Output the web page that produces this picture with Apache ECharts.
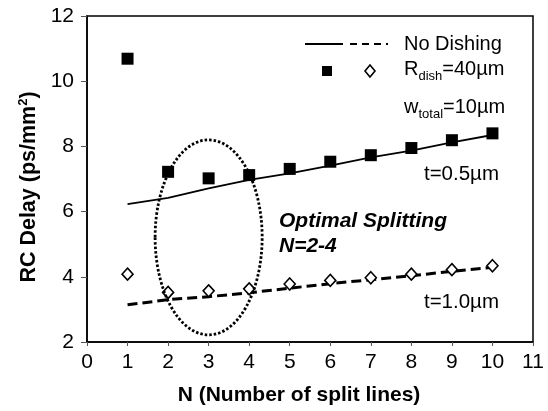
<!DOCTYPE html>
<html>
<head>
<meta charset="utf-8">
<script src="https://cdn.jsdelivr.net/npm/echarts@6/dist/echarts.min.js"></script>
<style>html,body{margin:0;padding:0;background:#fff;}#c{width:548px;height:411px;}</style>
</head>
<body>
<div id="c"></div>
<script>
var N = [1, 2, 3, 4, 5, 6, 7, 8, 9, 10];
var dishThin = [10.69, 7.22, 7.02, 7.12, 7.31, 7.53, 7.73, 7.95, 8.19, 8.40];
var dishThick = [4.08, 3.52, 3.57, 3.63, 3.78, 3.89, 3.97, 4.08, 4.22, 4.34];
var noDishThin = [6.23, 6.42, 6.71, 6.97, 7.17, 7.41, 7.66, 7.87, 8.12, 8.35];
var noDishThick = [3.14, 3.30, 3.39, 3.51, 3.65, 3.79, 3.91, 4.03, 4.17, 4.29];
var ellipse = [3.0, 5.21, 1.32, 2.99]; // cx, cy, rx, ry in data units
var xTicks = [0, 11, 1];
var yTicks = [2, 12, 2];

function pairs(xs, ys) { return xs.map(function (x, i) { return [x, ys[i]]; }); }

var FF = 'Liberation Sans, Arial, sans-serif';
var chart = echarts.init(document.getElementById('c'));
chart.setOption({
  animation: false,
  backgroundColor: '#fff',
  grid: { left: 87, right: 15, top: 16, bottom: 68, show: true, borderColor: '#000', borderWidth: 1.5 },
  xAxis: {
    type: 'value', min: xTicks[0], max: xTicks[1], interval: xTicks[2],
    name: 'N (Number of split lines)', nameLocation: 'middle', nameGap: 43,
    nameTextStyle: { fontFamily: FF, fontSize: 21, fontWeight: 'bold', color: '#000', padding: [0, 22, 0, 0] },
    axisLine: { show: true, lineStyle: { color: '#000', width: 1.5 } },
    axisTick: { show: true, length: 4, lineStyle: { color: '#555' } },
    axisLabel: { fontFamily: FF, fontSize: 21, color: '#000', margin: 10 },
    splitLine: { show: false }
  },
  yAxis: {
    type: 'value', min: yTicks[0], max: yTicks[1], interval: yTicks[2],
    name: '{b|RC Delay (ps/mm}{s|2}{b|)}', nameLocation: 'middle', nameGap: 46, nameRotate: 90,
    nameTextStyle: {
      padding: [0, 16, 0, 0],
      rich: {
        b: { fontFamily: FF, fontSize: 21.5, fontWeight: 'bold', color: '#000', lineHeight: 24 },
        s: { fontFamily: FF, fontSize: 13, fontWeight: 'bold', color: '#000', verticalAlign: 'top', lineHeight: 24 }
      }
    },
    axisLine: { show: true, lineStyle: { color: '#000', width: 1.5 } },
    axisTick: { show: true, length: 6, lineStyle: { color: '#555' } },
    axisLabel: { fontFamily: FF, fontSize: 21, color: '#000', margin: 13 },
    splitLine: { show: false }
  },
  series: [
    {
      type: 'line', data: pairs(N, noDishThin), showSymbol: false, symbol: 'none',
      lineStyle: { color: '#000', width: 1.8 }, z: 3
    },
    {
      type: 'line', data: pairs(N, noDishThick), showSymbol: false, symbol: 'none',
      lineStyle: { color: '#000', width: 3, type: [10, 5] }, z: 3
    },
    {
      type: 'scatter', data: pairs(N, dishThin), symbol: 'rect', symbolSize: 12,
      itemStyle: { color: '#000', opacity: 1 }, z: 4
    },
    {
      type: 'scatter', data: pairs(N, dishThick), symbol: 'diamond', symbolSize: [11, 12],
      itemStyle: { color: '#fff', borderColor: '#000', borderWidth: 1.6, opacity: 1 }, z: 4
    },
    {
      type: 'custom', data: [ellipse], z: 5, silent: true,
      renderItem: function (params, api) {
        var c = api.coord([api.value(0), api.value(1)]);
        var s = api.size([api.value(2), api.value(3)]);
        return {
          type: 'ellipse',
          shape: { cx: c[0], cy: c[1], rx: s[0], ry: s[1] },
          style: { fill: null, stroke: '#000', lineWidth: 2.8, lineDash: [2.5, 2] }
        };
      }
    }
  ],
  graphic: [
    { type: 'line', shape: { x1: 305, y1: 44, x2: 343, y2: 44 }, style: { stroke: '#000', lineWidth: 1.8 } },
    { type: 'line', shape: { x1: 350, y1: 44, x2: 388, y2: 44 }, style: { stroke: '#000', lineWidth: 1.8, lineDash: [7, 5] } },
    { type: 'rect', shape: { x: 322, y: 66, width: 10, height: 10 }, style: { fill: '#000' } },
    { type: 'polygon', shape: { points: [[370, 65], [375, 71], [370, 77], [365, 71]] }, style: { fill: '#fff', stroke: '#000', lineWidth: 1.6 } },
    { type: 'text', left: 404, top: 34, style: { text: 'No Dishing', fontFamily: FF, fontSize: 20, fill: '#000' } },
    { type: 'text', left: 404, top: 59, style: { text: '{a|R}{s|dish}{a|=40µm}', rich: {
        a: { fontFamily: FF, fontSize: 20, fill: '#000', lineHeight: 24, verticalAlign: 'bottom' },
        s: { fontFamily: FF, fontSize: 13, fill: '#000', lineHeight: 24, verticalAlign: 'bottom', padding: [0, 0, -4, 0] } } } },
    { type: 'text', left: 404, top: 97, style: { text: '{a|w}{s|total}{a|=10µm}', rich: {
        a: { fontFamily: FF, fontSize: 20, fill: '#000', lineHeight: 24, verticalAlign: 'bottom' },
        s: { fontFamily: FF, fontSize: 13, fill: '#000', lineHeight: 24, verticalAlign: 'bottom', padding: [0, 0, -4, 0] } } } },
    { type: 'text', right: 49, top: 164, style: { text: 't=0.5µm', fontFamily: FF, fontSize: 20.5, fill: '#000' } },
    { type: 'text', right: 49, top: 292, style: { text: 't=1.0µm', fontFamily: FF, fontSize: 20.5, fill: '#000' } },
    { type: 'text', left: 279, top: 209, style: { text: 'Optimal Splitting\nN=2-4', fontFamily: FF, fontSize: 21, fontWeight: 'bold', fontStyle: 'italic', fill: '#000', lineHeight: 25 } }
  ]
});
</script>
</body>
</html>
